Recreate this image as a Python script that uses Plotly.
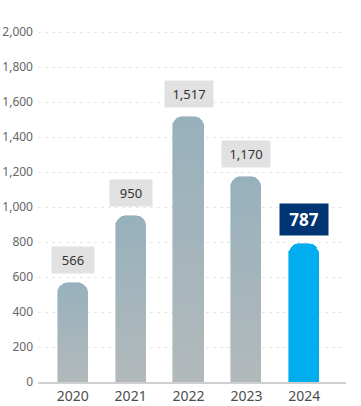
import plotly.graph_objects as go

years = ["2020", "2021", "2022", "2023", "2024"]
values = [566, 950, 1517, 1170, 787]
labels = ["566", "950", "1,517", "1,170", "787"]
y_ticks = [0, 200, 400, 600, 800, 1000, 1200, 1400, 1600, 1800, 2000]

N = 40
top_rgb = (0x97, 0xB1, 0xBC)
bot_rgb = (0xB2, 0xB9, 0xBB)
hl_color = "#00AEEF"

fig = go.Figure()
for i in range(N):
    t = (i + 0.5) / N
    c = tuple(round(b + (a - b) * t) for a, b in zip(top_rgb, bot_rgb))
    col = "rgb(%d,%d,%d)" % c
    colors = [col] * 4 + [hl_color]
    fig.add_trace(go.Bar(
        x=years, y=[v / N for v in values],
        marker=dict(color=colors, line=dict(width=0.6, color=colors)),
        width=0.52, showlegend=False, hoverinfo="skip",
    ))

for k, (yr, v, lab) in enumerate(zip(years, values, labels)):
    hl = k == len(years) - 1
    fig.add_annotation(
        x=k, y=v, xref="x", yref="y",
        text=("<b>%s</b>" % lab) if hl else lab,
        showarrow=False, yanchor="bottom", yshift=9 if not hl else 8,
        bgcolor="#003473" if hl else "#E1E1E1",
        font=dict(size=17 if hl else 13, color="white" if hl else "#333333"),
        width=40 if (hl or len(lab) > 3) else 34,
        borderpad=4,
    )

fig.update_layout(
    width=361, height=406,
    margin=dict(l=38, r=15, t=31, b=24, autoexpand=False),
    barmode="stack", bargap=0,
    barcornerradius=10,
    plot_bgcolor="white", paper_bgcolor="white",
    font=dict(family="Noto Sans, Roboto, sans-serif"),
    xaxis=dict(
        type="category", range=[-0.6, 4.72], automargin=False,
        showgrid=False, showline=True, linecolor="#CFCFCF", linewidth=2,
        ticks="", tickfont=dict(size=14, color="#4D4D4D"),
        fixedrange=True,
    ),
    yaxis=dict(
        range=[0, 2006], tickvals=y_ticks, automargin=False,
        tickformat=",", showgrid=True, gridcolor="#E6E6E6",
        griddash="3px,4px", gridwidth=1, zeroline=False,
        ticks="", tickfont=dict(size=12, color="#666666"),
        ticklabelstandoff=4, fixedrange=True,
    ),
)

fig.write_html(
    "out.html",
    config={"displayModeBar": False},
    post_script="document.body.style.margin='0';document.body.style.overflow='hidden';",
)
